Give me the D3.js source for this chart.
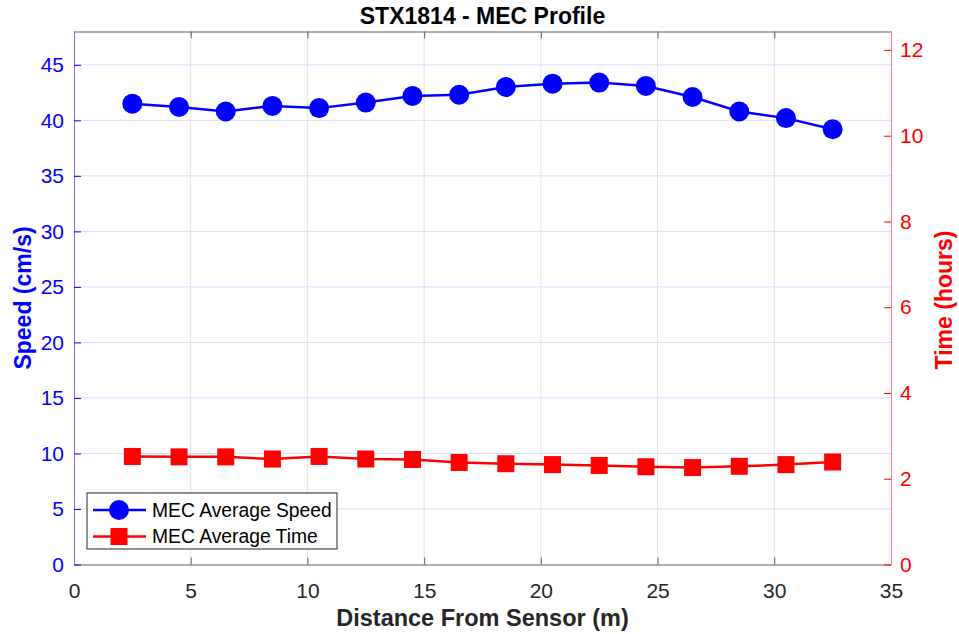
<!DOCTYPE html>
<html>
<head>
<meta charset="utf-8">
<script src="https://cdn.jsdelivr.net/npm/d3@7"></script>
<style>
  body { margin: 0; background: #fff; }
  text { font-family: "Liberation Sans", Arial, Helvetica, sans-serif; }
</style>
</head>
<body>
<div class="chart"></div>
<script>
// data
const distance = [2.5, 4.5, 6.5, 8.5, 10.5, 12.5, 14.5, 16.5, 18.5, 20.5, 22.5, 24.5, 26.5, 28.5, 30.5, 32.5];
const avgSpeed = [41.5, 41.2, 40.8, 41.3, 41.1, 41.6, 42.2, 42.3, 43.0, 43.3, 43.4, 43.1, 42.1, 40.8, 40.2, 39.2];
const avgTime  = [2.52, 2.51, 2.51, 2.46, 2.52, 2.46, 2.45, 2.38, 2.35, 2.33, 2.31, 2.28, 2.26, 2.29, 2.33, 2.39];
const xTicks = [0, 5, 10, 15, 20, 25, 30, 35];
const speedTicks = [0, 5, 10, 15, 20, 25, 30, 35, 40, 45];
const timeTicks = [0, 2, 4, 6, 8, 10, 12];
const seriesNames = ['MEC Average Speed', 'MEC Average Time'];

const W = 959, H = 634;
const pL = 74, pR = 891, pT = 31.5, pB = 564.5;

const x = d3.scaleLinear().domain([0, 35]).range([pL, pR]);
const yL = d3.scaleLinear().domain([0, 48]).range([pB, pT]);
const yR = d3.scaleLinear().domain([0, 12.43]).range([pB, pT]);

const svg = d3.select('.chart').append('svg')
  .attr('width', W).attr('height', H);

// grid
svg.append('g').selectAll('line')
  .data(xTicks.slice(1, -1)).enter().append('line')
  .attr('x1', d => x(d)).attr('x2', d => x(d))
  .attr('y1', pT).attr('y2', pB)
  .attr('stroke', '#e4e4e4').attr('stroke-width', 1);
svg.append('g').selectAll('line')
  .data(speedTicks.slice(1)).enter().append('line')
  .attr('x1', pL).attr('x2', pR)
  .attr('y1', d => yL(d)).attr('y2', d => yL(d))
  .attr('stroke', '#dcdcff').attr('stroke-width', 1);

// axes
const gx = svg.append('g').attr('transform', `translate(0,${pB})`)
  .call(d3.axisBottom(x).tickValues(xTicks).tickSizeInner(-7).tickSizeOuter(0).tickPadding(18));
const gxTop = svg.append('g').attr('transform', `translate(0,${pT})`)
  .call(d3.axisTop(x).tickValues(xTicks).tickSizeInner(-7).tickSizeOuter(0).tickFormat(''));
[gx, gxTop].forEach(g => {
  g.select('.domain').attr('stroke', '#5f5f5f');
  g.selectAll('.tick line').attr('stroke', '#5f5f5f');
});
gx.selectAll('.tick text').attr('font-size', 21).attr('fill', '#262626').attr('dy', 0).attr('y', 33);

const gl = svg.append('g').attr('transform', `translate(${pL},0)`)
  .call(d3.axisLeft(yL).tickValues(speedTicks).tickSizeInner(-7).tickSizeOuter(0).tickPadding(10));
gl.select('.domain').attr('stroke', '#7575ff');
gl.selectAll('.tick line').attr('stroke', '#0000ff');
gl.selectAll('.tick text').attr('font-size', 21).attr('fill', '#0000ff');

const gr = svg.append('g').attr('transform', `translate(${pR},0)`)
  .call(d3.axisRight(yR).tickValues(timeTicks).tickSizeInner(-7).tickSizeOuter(0).tickPadding(9));
gr.select('.domain').attr('stroke', '#ff8080');
gr.selectAll('.tick line').attr('stroke', '#ff0000');
gr.selectAll('.tick text').attr('font-size', 21).attr('fill', '#ff0000');

// speed series
const speedLine = d3.line().x((d, i) => x(distance[i])).y(d => yL(d));
svg.append('path').datum(avgSpeed)
  .attr('d', speedLine).attr('fill', 'none')
  .attr('stroke', '#0000ff').attr('stroke-width', 2.5);
svg.append('g').selectAll('circle')
  .data(avgSpeed).enter().append('circle')
  .attr('cx', (d, i) => x(distance[i])).attr('cy', d => yL(d))
  .attr('r', 10).attr('fill', '#0000ff');

// time series
const timeLine = d3.line().x((d, i) => x(distance[i])).y(d => yR(d));
svg.append('path').datum(avgTime)
  .attr('d', timeLine).attr('fill', 'none')
  .attr('stroke', '#ff0000').attr('stroke-width', 2.5);
const sq = 17;
svg.append('g').selectAll('rect')
  .data(avgTime).enter().append('rect')
  .attr('x', (d, i) => x(distance[i]) - sq / 2).attr('y', d => yR(d) - sq / 2)
  .attr('width', sq).attr('height', sq).attr('fill', '#ff0000');

// title + labels
svg.append('text').attr('x', (pL + pR) / 2).attr('y', 24)
  .attr('text-anchor', 'middle').attr('font-size', 23).attr('font-weight', 'bold')
  .attr('fill', '#000').text('STX1814 - MEC Profile');
svg.append('text').attr('x', (pL + pR) / 2).attr('y', 626)
  .attr('text-anchor', 'middle').attr('font-size', 23.5).attr('font-weight', 'bold')
  .attr('fill', '#262626').text('Distance From Sensor (m)');
svg.append('text').attr('transform', `translate(31,${(pT + pB) / 2}) rotate(-90)`)
  .attr('text-anchor', 'middle').attr('font-size', 23).attr('font-weight', 'bold')
  .attr('fill', '#0000ff').text('Speed (cm/s)');
svg.append('text').attr('transform', `translate(952,${(pT + pB) / 2 + 2}) rotate(-90)`)
  .attr('text-anchor', 'middle').attr('font-size', 23).attr('font-weight', 'bold')
  .attr('fill', '#ff0000').text('Time (hours)');

// legend
const lg = svg.append('g').attr('transform', 'translate(87,493)');
lg.append('rect').attr('width', 250).attr('height', 56)
  .attr('fill', '#fff').attr('stroke', '#262626').attr('stroke-width', 1);
const legendColors = ['#0000ff', '#ff0000'];
seriesNames.forEach((name, i) => {
  const cy = 17 + i * 26.5;
  lg.append('line').attr('x1', 6).attr('x2', 59).attr('y1', cy).attr('y2', cy)
    .attr('stroke', legendColors[i]).attr('stroke-width', 2.5);
  if (i === 0) {
    lg.append('circle').attr('cx', 32).attr('cy', cy).attr('r', 10).attr('fill', legendColors[i]);
  } else {
    lg.append('rect').attr('x', 32 - sq / 2).attr('y', cy - sq / 2)
      .attr('width', sq).attr('height', sq).attr('fill', legendColors[i]);
  }
  lg.append('text').attr('x', 65).attr('y', cy + 6.5)
    .attr('font-size', 19.3).attr('fill', '#000').text(name);
});
</script>
</body>
</html>
